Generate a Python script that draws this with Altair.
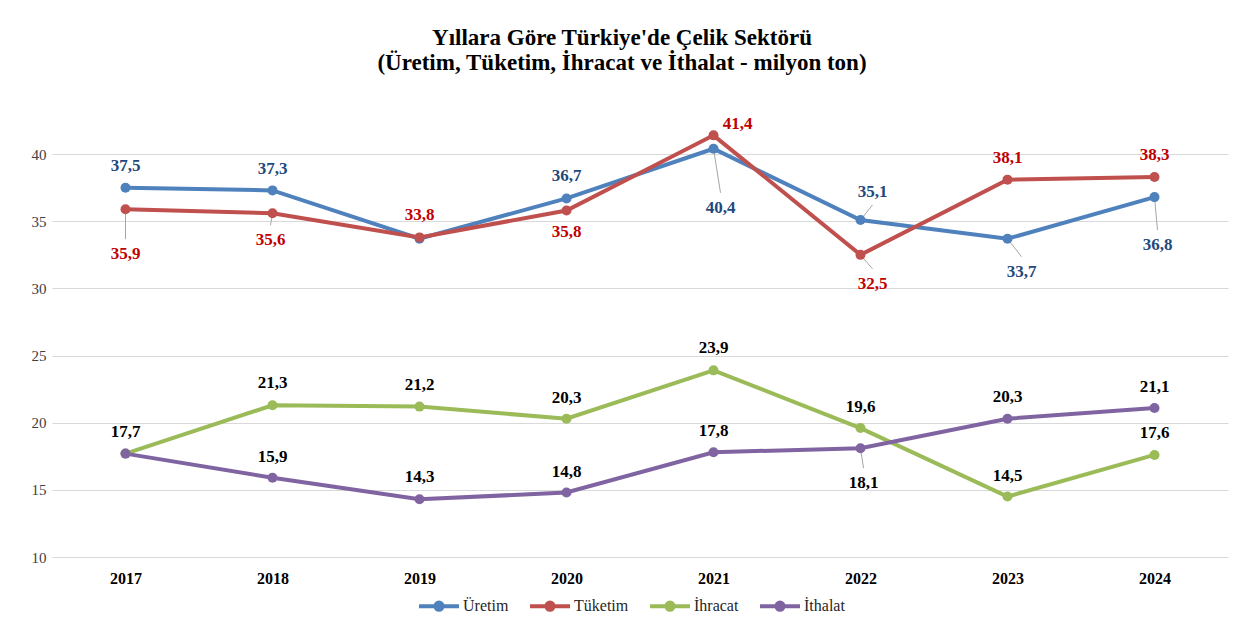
import altair as alt
import pandas as pd

# ---- data ----
years = ["2017", "2018", "2019", "2020", "2021", "2022", "2023", "2024"]
series_names = ["Üretim", "Tüketim", "İhracat", "İthalat"]
uretim = [37.5, 37.3, 33.7, 36.7, 40.4, 35.1, 33.7, 36.8]
tuketim = [35.9, 35.6, 33.8, 35.8, 41.4, 32.5, 38.1, 38.3]
ihracat = [17.7, 21.3, 21.2, 20.3, 23.9, 19.6, 14.5, 17.6]
ithalat = [17.7, 15.9, 14.3, 14.8, 17.8, 18.1, 20.3, 21.1]

# ---- label placement (pixel offset from the point, leader line flag); None = no label ----
A = (0, -22, 0)
uretim_lbl = [A, (0, -21, 0), None, A, (7, 59, 1), (12, -28, 1), (14, 33, 1), (3, 48, 1)]
tuketim_lbl = [(0, 45, 1), (-2, 27, 1), A, (0, 21, 0), (24, -11, 0), (12, 29, 1), A, A]
ihracat_lbl = [A, A, A, (0, -21, 0), A, (0, -21, 0), (0, -21, 0), A]
ithalat_lbl = [None, (0, -21, 0), A, (0, -21, 0), (0, -21, 0), (3, 35, 1), A, (0, -21, 0)]

# ---- styles ----
line_colors = ["#4F81BD", "#C0504D", "#9BBB59", "#8064A2"]
label_colors = {"Üretim": "#1F497D", "Tüketim": "#C00000", "İhracat": "#000000", "İthalat": "#000000"}
SERIF = "Liberation Serif"

values = [uretim, tuketim, ihracat, ithalat]
labels = [uretim_lbl, tuketim_lbl, ihracat_lbl, ithalat_lbl]

rows, lrows = [], []
for s, vals, lbls in zip(series_names, values, labels):
    for y, v, lb in zip(years, vals, lbls):
        rows.append({"year": y, "series": s, "value": v})
        if lb is not None:
            dx, dy, lead = lb
            lrows.append({"year": y, "series": s, "value": v,
                          "text": f"{v:.1f}".replace(".", ","),
                          "dx": dx, "dy": dy, "lead": lead, "lc": label_colors[s]})

df = pd.DataFrame(rows)
ldf = pd.DataFrame(lrows)

x_scale = alt.Scale(type="point", padding=0.5)
x_enc = alt.X("year:N", sort=years, scale=x_scale,
              axis=alt.Axis(title=None, labelAngle=0, domain=False, ticks=False,
                            labelFont=SERIF, labelFontSize=16, labelFontWeight="bold",
                            labelColor="#000000", labelPadding=13, grid=False))
y_enc = alt.Y("value:Q",
              scale=alt.Scale(domain=[10, 45], nice=False, zero=False),
              axis=alt.Axis(title=None, values=[10, 15, 20, 25, 30, 35, 40],
                            domain=False, ticks=False, grid=True, gridColor="#D9D9D9",
                            gridWidth=1, labelFont=SERIF, labelFontSize=15,
                            labelColor="#404040", labelPadding=6))
color_scale = alt.Scale(domain=series_names, range=line_colors)
xs = alt.X("year:N", sort=years)

lines = alt.Chart(df).mark_line(strokeWidth=4).encode(
    x=x_enc, y=y_enc,
    color=alt.Color("series:N", scale=color_scale, sort=series_names,
                    legend=alt.Legend(title=None, orient="none", direction="horizontal",
                                      legendX=365, legendY=497)),
    detail="series:N",
)

layers = [lines]

# leader lines (one rule per flagged label, from the point towards its label)
for r in lrows:
    if r["lead"]:
        ey = r["dy"] - 15 if r["dy"] > 0 else r["dy"] + 13
        layers.append(
            alt.Chart(df).mark_rule(strokeWidth=1, color="#A6A6A6",
                                    x2Offset=r["dx"], y2Offset=ey).encode(
                x=xs, x2="year:N", y="value:Q", y2="value:Q",
            ).transform_filter(
                (alt.datum.series == r["series"]) & (alt.datum.year == r["year"]))
        )

points = alt.Chart(df).mark_circle(size=100, opacity=1).encode(
    x=xs, y="value:Q",
    color=alt.Color("series:N", scale=color_scale, sort=series_names),
)
layers.append(points)

# data labels, one layer per distinct offset
for dx, dy in sorted({(r["dx"], r["dy"]) for r in lrows}):
    layers.append(
        alt.Chart(ldf).mark_text(font=SERIF, fontSize=17, fontWeight="bold",
                                 align="center", baseline="middle", dx=dx, dy=dy).encode(
            x=xs, y="value:Q", text="text:N",
            color=alt.Color("lc:N", scale=None),
        ).transform_filter((alt.datum.dx == dx) & (alt.datum.dy == dy))
    )

chart = alt.layer(*layers).properties(
    width=1176, height=470,
    title=alt.Title(["Yıllara Göre Türkiye'de Çelik Sektörü",
                     "(Üretim, Tüketim, İhracat ve İthalat - milyon ton)"],
                    font=SERIF, fontSize=23, fontWeight="bold", color="#000000",
                    anchor="middle", frame="group", dx=-18, offset=12, lineHeight=25),
    autosize=alt.AutoSizeParams(type="none"),
    padding={"left": 44, "top": 79, "right": 11, "bottom": 63},
    background="white",
).configure_view(stroke=None).configure_legend(
    symbolType="M-1,0L1,0M0.18,0A0.18,0.18,0,1,1,-0.18,0A0.18,0.18,0,1,1,0.18,0",
    symbolSize=1600, symbolStrokeWidth=4, labelFont=SERIF, labelFontSize=16,
    labelColor="#262626", columnPadding=13, labelOffset=2,
)

chart.save("out.html", embed_options={"renderer": "svg", "actions": False})
